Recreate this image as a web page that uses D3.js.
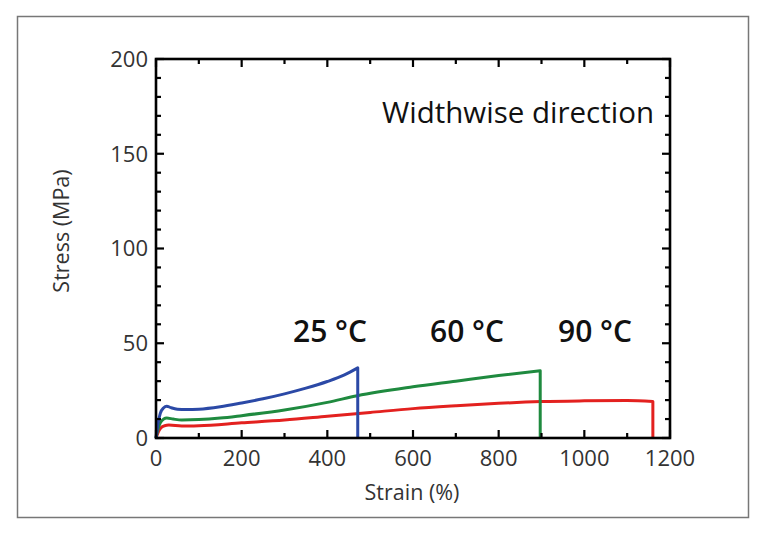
<!DOCTYPE html>
<html><head><meta charset="utf-8">
<script src="https://cdn.jsdelivr.net/npm/d3@7"></script>
<style>body{margin:0;background:#fff;}svg{display:block;font-family:"Open Sans",sans-serif;}</style>
</head><body><svg id="c" width="768" height="536"></svg>
<script>
const xTicks = [0,200,400,600,800,1000,1200];
const yTicks = [0,50,100,150,200];
const strain25 = [0,5,10,18,25,35,50,70,100,150,200,250,300,350,400,440,471,471];
const stress25 = [0,8,13,16,16.8,16,15.2,15,15.2,16.5,18.5,20.7,23.3,26.3,29.8,33.3,37,0];
const strain60 = [0,5,10,18,25,40,60,100,150,200,300,400,470,600,700,800,897,897];
const stress60 = [0,5,8,10,10.5,10,9.5,9.7,10.5,11.8,14.8,18.8,22.3,27,30,33,35.5,0];
const strain90 = [0,5,10,20,30,60,100,200,300,400,500,600,700,800,900,1000,1100,1160,1160];
const stress90 = [0,3,5,6.5,6.8,6.3,6.5,8,9.5,11.5,13.5,15.5,17,18.3,19.2,19.6,19.8,19.3,0];
const seriesLabels = ["25 °C","60 °C","90 °C"];
const seriesColors = ["#2b49a6","#1f8a3f","#e3211f"];
const title = "Widthwise direction";

const svg = d3.select("#c");
svg.append("rect").attr("x",17.5).attr("y",16.5).attr("width",731).attr("height",501)
  .attr("fill","none").attr("stroke","#777").attr("stroke-width",1.5);

const L=156,R=670,T=59,B=438;
const x = d3.scaleLinear().domain([0,1200]).range([L,R]);
const y = d3.scaleLinear().domain([0,200]).range([B,T]);

const series = [[strain25,stress25],[strain60,stress60],[strain90,stress90]];
const smooth = d3.line().x(d=>x(d[0])).y(d=>y(d[1])).curve(d3.curveMonotoneX);
series.slice().reverse().forEach((s,ri)=>{
  const i = 2-ri;
  const pts = s[0].map((v,k)=>[v,s[1][k]]);
  const last = pts[pts.length-1];
  const d = smooth(pts.slice(0,-1)) + "L" + x(last[0]) + "," + y(last[1]);
  svg.append("path").attr("d",d).attr("fill","none")
    .attr("stroke",seriesColors[i]).attr("stroke-width",3).attr("stroke-linejoin","round");
});

const xMinor = d3.range(0,1201,100), yMinor = d3.range(0,201,10);
const g = svg.append("g").attr("stroke","#000").attr("stroke-width",2.2);
xMinor.forEach(v=>{
  const len = v%200===0?8:5;
  g.append("line").attr("x1",x(v)).attr("x2",x(v)).attr("y1",B).attr("y2",B-len);
  g.append("line").attr("x1",x(v)).attr("x2",x(v)).attr("y1",T).attr("y2",T+len);
});
yMinor.forEach(v=>{
  const len = v%50===0?8:5;
  g.append("line").attr("y1",y(v)).attr("y2",y(v)).attr("x1",L).attr("x2",L+len);
  g.append("line").attr("y1",y(v)).attr("y2",y(v)).attr("x1",R).attr("x2",R-len);
});
svg.append("rect").attr("x",L).attr("y",T).attr("width",R-L).attr("height",B-T)
  .attr("fill","none").attr("stroke","#000").attr("stroke-width",2.6);

xTicks.forEach(v=>svg.append("text").attr("x",x(v)).attr("y",B+28).attr("text-anchor","middle")
  .attr("font-size",22).attr("fill","#333").text(v));
yTicks.forEach(v=>svg.append("text").attr("x",L-8).attr("y",y(v)).attr("dy","0.36em").attr("text-anchor","end")
  .attr("font-size",22).attr("fill","#333").text(v));

svg.append("text").attr("x",412).attr("y",500).attr("text-anchor","middle")
  .attr("font-size",21.5).attr("fill","#333").text("Strain (%)");
svg.append("text").attr("transform","translate(69,231) rotate(-90)").attr("text-anchor","middle")
  .attr("font-size",21.5).attr("fill","#333").text("Stress (MPa)");

svg.append("text").attr("x",382).attr("y",123).attr("font-size",29.5).attr("fill","#111").text(title);
const lblX = [330,467,595];
seriesLabels.forEach((t,i)=>svg.append("text").attr("x",lblX[i]).attr("y",342).attr("text-anchor","middle")
  .attr("font-size",30).attr("font-weight",600).attr("fill","#111").text(t));
</script></body></html>
